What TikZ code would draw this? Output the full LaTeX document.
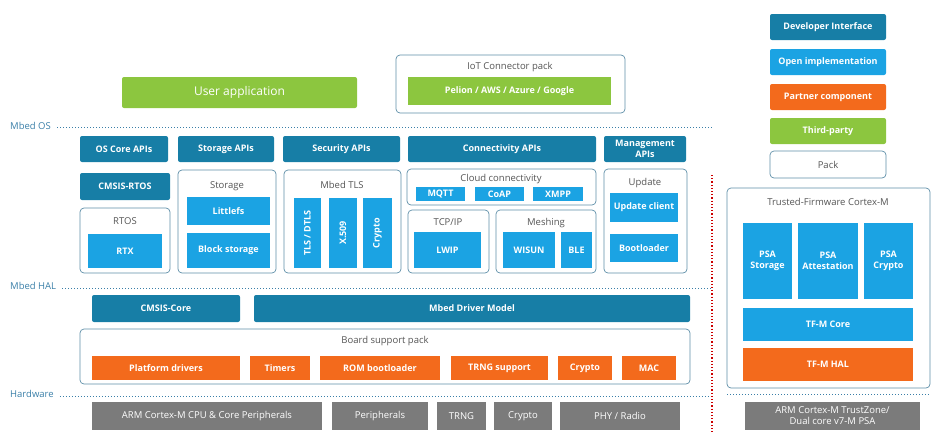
\documentclass[tikz,border=0pt]{standalone}
\usepackage{fontspec}
\setmainfont{Open Sans}
\begin{document}
\definecolor{dk}{HTML}{177EA6}
\definecolor{lb}{HTML}{1BA3E3}
\definecolor{og}{HTML}{F36A1C}
\definecolor{gr}{HTML}{8CC63F}
\definecolor{gy}{HTML}{7B7B7B}
\definecolor{pk}{HTML}{5E8FA8}
\definecolor{tx}{HTML}{555555}
\definecolor{lab}{HTML}{3A7FA8}
\begin{tikzpicture}[x=1pt,y=-1pt,font=\fontsize{9.5}{11}\selectfont,
 b/.style={inner sep=0pt,align=center,text=white,font=\fontsize{9}{10.5}\selectfont\bfseries},
 dkb/.style={b,fill=dk,rounded corners=2pt},
 lbb/.style={b,fill=lb},
 ogb/.style={b,fill=og},
 grb/.style={b,fill=gr,rounded corners=2pt},
 gyb/.style={b,fill=gy},
 pack/.style={draw=pk,fill=white,rounded corners=4pt,line width=0.7pt},
 ttl/.style={text=tx,inner sep=0pt},
 dots/.style={draw=lab,dotted,line width=1pt},
 lvl/.style={text=lab,anchor=west,inner sep=0pt}]
\useasboundingbox (0,0) rectangle (937,440);
\newcommand\bx[6]{\node[#1,minimum width=#4-#2,minimum height=#5-#3] (#6) at ({(#2+#4)/2},{(#3+#5)/2}) {};}
% legend
\bx{dkb}{770}{14}{886}{40}{l1}\node[b] at (l1) {Developer Interface};
\bx{lbb,rounded corners=2pt}{770}{49}{886}{75}{l2}\node[b] at (l2) {Open implementation};
\bx{ogb,rounded corners=2pt}{770}{84}{886}{110}{l3}\node[b] at (l3) {Partner component};
\bx{grb}{770}{118}{886}{144}{l4}\node[b] at (l4) {Third-party};
\bx{pack}{770}{151}{886}{178}{l5}\node[ttl] at (l5) {Pack};
% top
\bx{grb}{122}{77}{357}{108}{ua}\node[b,font=\fontsize{12}{14}\selectfont] at (ua) {User application};
\bx{pack}{396}{55}{625}{113}{iot}\node[ttl] at (510,67) {IoT Connector pack};
\bx{grb,rounded corners=0pt}{408}{77}{611}{105}{pag}\node[b] at (pag) {Pelion / AWS / Azure / Google};
% levels
\node[lvl] (los) at (10,126) {Mbed OS};
\coordinate (e1) at (712,127); \draw[dots] (los.east)++(6,1) -- (e1);
\node[lvl] (lhal) at (10,286) {Mbed HAL};
\coordinate (e2) at (712,288); \draw[dots] (lhal.east)++(6,2) -- (e2);
\node[lvl] (lhw) at (10,394) {Hardware};
\coordinate (e3) at (712,396); \draw[dots] (lhw.east)++(6,2) -- (e3);
\coordinate (r1) at (727,394); \coordinate (r2) at (930,394); \draw[dots] (r1) -- (r2);
\coordinate (v1) at (712,175); \coordinate (v2) at (712,432); \draw[red!80!black,dotted,line width=1.2pt] (v1) -- (v2);
% APIs
\bx{dkb}{80}{136}{168}{162}{a1}\node[b] at (a1) {OS Core APIs};
\bx{dkb}{178}{136}{274}{162}{a2}\node[b] at (a2) {Storage APIs};
\bx{dkb}{283}{136}{400}{162}{a3}\node[b] at (a3) {Security APIs};
\bx{dkb}{408}{136}{596}{162}{a4}\node[b] at (a4) {Connectivity APIs};
\bx{dkb}{604}{136}{686}{162}{a5}\node[b] at (a5) {Management\\APIs};
\bx{dkb}{80}{173}{170}{200}{cr}\node[b] at (cr) {CMSIS-RTOS};
% RTOS
\bx{pack}{80}{208}{170}{273}{rt}\node[ttl] at (125,221) {RTOS};
\bx{lbb}{88}{234}{162}{268}{rtx}\node[b] at (rtx) {RTX};
% storage
\bx{pack}{178}{170}{276}{273}{st}\node[ttl] at (227,186) {Storage};
\bx{lbb}{187}{197}{270}{225}{lf}\node[b] at (lf) {Littlefs};
\bx{lbb}{187}{233}{270}{268}{bs}\node[b] at (bs) {Block storage};
% TLS
\bx{pack}{284}{170}{401}{273}{tls}\node[ttl] at (342,185) {Mbed TLS};
\bx{lbb}{294}{198}{321}{268}{t1}\node[b,rotate=90] at (t1) {TLS / DTLS};
\bx{lbb}{329}{198}{357}{268}{t2}\node[b,rotate=90] at (t2) {X.509};
\bx{lbb}{363}{198}{392}{268}{t3}\node[b,rotate=90] at (t3) {Crypto};
% cloud
\bx{pack}{407}{169}{596}{205}{cc}\node[ttl] at (501,179) {Cloud connectivity};
\bx{lbb}{416}{187}{465}{201}{c1}\node[b] at (c1) {MQTT};
\bx{lbb}{475}{187}{524}{201}{c2}\node[b] at (c2) {CoAP};
\bx{lbb}{533}{187}{583}{201}{c3}\node[b] at (c3) {XMPP};
\bx{pack}{408}{210}{489}{273}{tcp}\node[ttl] at (448,222) {TCP/IP};
\bx{lbb}{414}{232}{481}{268}{lw}\node[b] at (lw) {LWIP};
\bx{pack}{496}{210}{596}{273}{ms}\node[ttl] at (546,223) {Meshing};
\bx{lbb}{503}{232}{555}{268}{ws}\node[b] at (ws) {WISUN};
\bx{lbb}{561}{232}{592}{268}{ble}\node[b] at (ble) {BLE};
\bx{pack}{604}{169}{687}{273}{up}\node[ttl] at (645,183) {Update};
\bx{lbb}{610}{193}{678}{222}{uc}\node[b] at (uc) {Update client};
\bx{lbb}{610}{234}{678}{262}{bl}\node[b] at (bl) {Bootloader};
% HAL
\bx{dkb}{92}{295}{240}{322}{cc2}\node[b] at (cc2) {CMSIS-Core};
\bx{dkb}{254}{295}{690}{322}{mdm}\node[b] at (mdm) {Mbed Driver Model};
\bx{pack}{80}{329}{690}{384}{bsp}\node[ttl] at (385,341) {Board support pack};
\bx{ogb}{92}{356}{240}{380}{o1}\node[b] at (o1) {Platform drivers};
\bx{ogb}{250}{356}{310}{380}{o2}\node[b] at (o2) {Timers};
\bx{ogb}{320}{356}{440}{380}{o3}\node[b] at (o3) {ROM bootloader};
\bx{ogb}{451}{356}{548}{380}{o4}\node[b] at (o4) {TRNG support};
\bx{ogb}{558}{356}{612}{380}{o5}\node[b] at (o5) {Crypto};
\bx{ogb}{622}{356}{676}{380}{o6}\node[b] at (o6) {MAC};
% HW
\bx{gyb}{92}{402}{322}{430}{h1}\node[b,font=\fontsize{9.5}{11}\selectfont] at (h1) {ARM Cortex-M CPU \& Core Peripherals};
\bx{gyb}{332}{402}{428}{430}{h2}\node[b,font=\fontsize{9.5}{11}\selectfont] at (h2) {Peripherals};
\bx{gyb}{437}{402}{486}{430}{h3}\node[b,font=\fontsize{9.5}{11}\selectfont] at (h3) {TRNG};
\bx{gyb}{494}{402}{552}{430}{h4}\node[b,font=\fontsize{9.5}{11}\selectfont] at (h4) {Crypto};
\bx{gyb}{560}{402}{680}{430}{h5}\node[b,font=\fontsize{9.5}{11}\selectfont] at (h5) {PHY / Radio};
% TF-M
\bx{pack}{727}{188}{930}{388}{tfm}\node[ttl] at (828,202) {Trusted-Firmware Cortex-M};
\bx{lbb}{743}{223}{792}{299}{p1}\node[b] at (p1) {PSA\\Storage};
\bx{lbb}{798}{223}{858}{299}{p2}\node[b] at (p2) {PSA\\Attestation};
\bx{lbb}{864}{223}{913}{299}{p3}\node[b] at (p3) {PSA\\Crypto};
\bx{lbb}{743}{308}{913}{341}{tc}\node[b] at (tc) {TF-M Core};
\bx{ogb}{743}{348}{913}{381}{th}\node[b] at (th) {TF-M HAL};
\bx{gyb}{745}{402}{920}{430}{h6}\node[b,font=\fontsize{9.5}{11}\selectfont] at (h6) {ARM Cortex-M TrustZone/\\Dual core v7-M PSA};
\end{tikzpicture}
\end{document}
